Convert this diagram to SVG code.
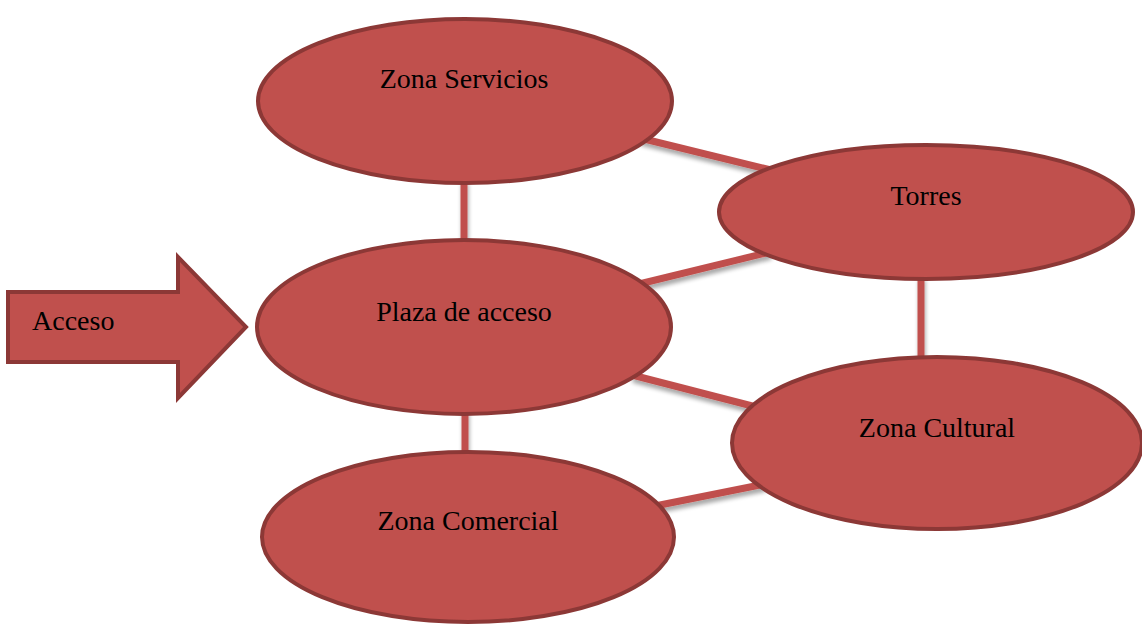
<svg xmlns="http://www.w3.org/2000/svg" width="1142" height="626" viewBox="0 0 1142 626">
<style>
.node{fill:#C0504D;stroke:#8C3836;stroke-width:4}
.lbl{font-family:"Liberation Serif","DejaVu Serif",serif;font-size:28px;fill:#000;text-anchor:middle}
.conn line{stroke:#C0504D;stroke-width:7}
</style>
<defs>
<filter id="sh" x="-20%" y="-50%" width="140%" height="200%">
<feGaussianBlur in="SourceAlpha" stdDeviation="2"/>
<feOffset dx="1" dy="4" result="b"/>
<feComponentTransfer><feFuncA type="linear" slope="0.35"/></feComponentTransfer>
<feMerge><feMergeNode/><feMergeNode in="SourceGraphic"/></feMerge>
</filter>
</defs>
<rect width="1142" height="626" fill="#fff"/>
<g id="connectors" class="conn" filter="url(#sh)">
<line x1="464" y1="180" x2="464" y2="244"/>
<line x1="640" y1="138" x2="775" y2="171"/>
<line x1="635" y1="285" x2="770" y2="252"/>
<line x1="632" y1="375" x2="760" y2="408"/>
<line x1="465" y1="410" x2="465" y2="455"/>
<line x1="921" y1="276" x2="921" y2="360"/>
<line x1="655" y1="506" x2="765" y2="484"/>
</g>
<g id="acceso">
<polygon class="node" points="8,292 178,292 178,257 246,327 178,398 178,362 8,362"/>
<text class="lbl" x="32" y="330" style="text-anchor:start">Acceso</text>
</g>
<g id="zona-servicios">
<ellipse class="node" cx="465" cy="101" rx="207" ry="82"/>
<text class="lbl" x="464" y="88">Zona Servicios</text>
</g>
<g id="torres">
<ellipse class="node" cx="926" cy="212" rx="207" ry="67"/>
<text class="lbl" x="926" y="205">Torres</text>
</g>
<g id="plaza-de-acceso">
<ellipse class="node" cx="464" cy="327" rx="207" ry="87"/>
<text class="lbl" x="464" y="321">Plaza de acceso</text>
</g>
<g id="zona-cultural">
<ellipse class="node" cx="937" cy="443" rx="205" ry="86"/>
<text class="lbl" x="937" y="437">Zona Cultural</text>
</g>
<g id="zona-comercial">
<ellipse class="node" cx="468" cy="537" rx="206" ry="85"/>
<text class="lbl" x="468" y="530">Zona Comercial</text>
</g>
</svg>
